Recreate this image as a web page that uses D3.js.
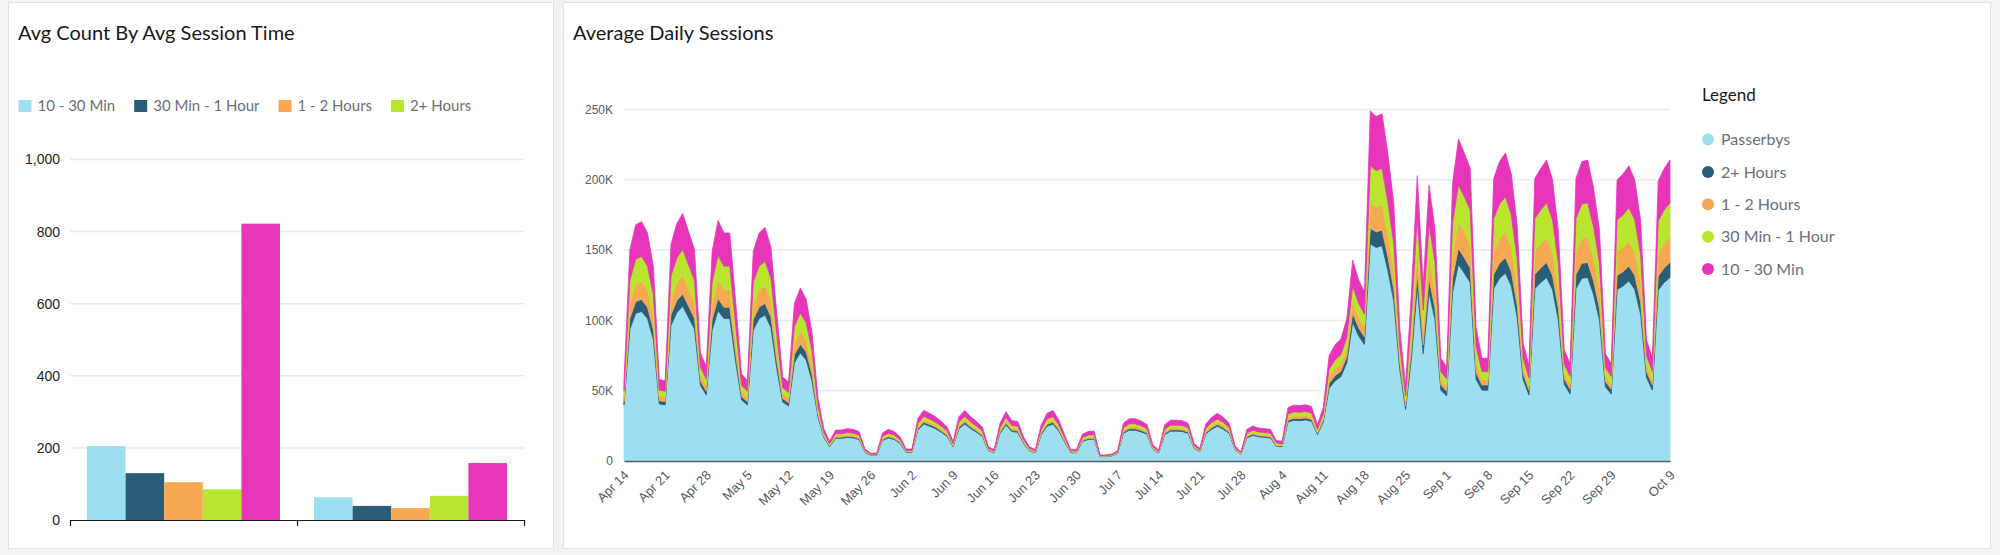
<!DOCTYPE html>
<html>
<head>
<meta charset="utf-8">
<title>Sessions Dashboard</title>
<style>
  body { margin: 0; background: #f2f2f2; }
  svg { display: block; font-family: Lato, "Open Sans", sans-serif; }
  .panel { fill: #fff; stroke: #e2e2e2; stroke-width: 1; }
  .title { font-size: 20px; fill: #16191f; }
  .grid line { stroke: #e9ebed; stroke-width: 1.5; }
  .legend-text { font-size: 16px; fill: #687078; }
  .legend-left { font-size: 15px; fill: #687078; }
  .ylab-left { font-size: 14px; fill: #222; }
  .ylab-right { font-size: 12px; fill: #545b64; }
  .xlab { font-size: 13px; fill: #545b64; }
</style>
</head>
<body>
<svg width="2000" height="555"></svg>
<script src="https://d3js.org/d3.v7.min.js"></script>
<script>
// ---------- data: left bar chart ----------
const barGroups = ["Group 1", "Group 2"];
const barSeries = ["10 - 30 Min", "30 Min - 1 Hour", "1 - 2 Hours", "2+ Hours", "Passerbys"];
const barLegendCount = 4; // legend in the reference only shows the first four
const barColors = ["#9ddef0", "#2a5d78", "#f6a853", "#b9e52f", "#e635b8"];
const barValues = [
  [205, 130, 105, 85, 822],
  [63, 39, 33, 67, 158]
];
const barTicks = [0, 200, 400, 600, 800, 1000];

// ---------- data: right stacked area (values in K, daily from startDate) ----------
const startDate = "2019-04-14";
const endDate = "2019-10-09";
const areaSeries = ["Passerbys", "2+ Hours", "1 - 2 Hours", "30 Min - 1 Hour", "10 - 30 Min"];
const areaColors = ["#9ddef0", "#2a5d78", "#f6a853", "#b9e52f", "#e635b8"];
const passerbys = [
  39.9, 93.8, 105, 106.3, 101.3, 86.3, 40.6,
  39.9, 96.3, 105.6, 110, 101.9, 93.8, 53.9,
  46.9, 93.1, 106.9, 101.3, 101.3, 70.6, 43.4,
  39.9, 93.1, 101.3, 103.8, 95, 65.6, 42,
  39.2, 70, 76.9, 71.9, 56.9, 31.5, 16.8,
  10.2, 16.1, 16.1, 16.8, 16.4, 15.3, 6.2,
  4, 4, 14.6, 16.4, 15.3, 12.4, 6.2,
  6.2, 21.9, 26.3, 24.8, 23, 20.4, 17.5,
  10.2, 23, 26.3, 23, 20.4, 17.5, 7.3,
  5.8, 19.7, 25.6, 21, 20.4, 12.4, 7.3,
  5.8, 18.7, 24.8, 26.3, 21.2, 13.5, 6.1,
  5.8, 13.9, 15.3, 15.5, 3.1, 3.1, 3.7,
  5.3, 19.7, 21.9, 21.9, 20.7, 19, 8.3,
  5.7, 18.7, 21.2, 21.2, 21, 19.6, 9.1,
  6.6, 19.2, 22.6, 24.7, 22.6, 19.6, 7.8,
  4.8, 16.4, 18.2, 17.2, 16.8, 16.4, 10.6,
  10.2, 27.7, 28.9, 28.7, 29.2, 28.2, 18.7,
  27.7, 51.8, 56.9, 60, 69.7, 98.7, 89,
  82.8, 154.4, 151.9, 153.1, 135.2, 113.5, 65.6,
  36.6, 73.2, 123.8, 76.3, 119.6, 100.7, 50.4,
  46.2, 120.2, 139.7, 133.6, 126.9, 58, 50.4,
  50.4, 122.6, 129.9, 133.6, 124.4, 101.9, 58,
  46.9, 122.6, 126.9, 130.5, 122, 100, 54.5,
  47.6, 122.6, 129.9, 130.5, 118.3, 100, 52.8,
  47.6, 122, 124.4, 128.1, 122, 104.3, 59.3,
  50.4, 121.4, 126.9, 130.5
];
const hours2plus = [
  2.3, 7.5, 8.4, 8.5, 8.1, 6.9, 2.3,
  2.3, 7.7, 8.5, 8.8, 8.2, 7.5, 3.1,
  2.7, 7.5, 8.6, 8.1, 8.1, 5.7, 2.5,
  2.3, 7.5, 8.1, 8.3, 7.6, 5.3, 2.4,
  2.2, 5.6, 6.2, 5.8, 4.6, 1.8, 0.8,
  0.5, 0.8, 0.8, 0.8, 0.8, 0.7, 0.3,
  0.2, 0.2, 0.7, 0.8, 0.7, 0.6, 0.3,
  0.3, 1.1, 1.3, 1.2, 1.1, 1, 0.8,
  0.5, 1.1, 1.3, 1.1, 1, 0.8, 0.4,
  0.3, 0.9, 1.2, 1, 1, 0.6, 0.4,
  0.3, 0.9, 1.2, 1.3, 1, 0.6, 0.3,
  0.3, 0.7, 0.7, 0.7, 0.2, 0.2, 0.2,
  0.3, 0.9, 1.1, 1.1, 1, 0.9, 0.4,
  0.3, 0.9, 1, 1, 1, 0.9, 0.4,
  0.3, 0.9, 1.1, 1.2, 1.1, 0.9, 0.4,
  0.2, 0.8, 0.9, 0.8, 0.8, 0.8, 0.5,
  0.5, 1.3, 1.4, 1.4, 1.4, 1.4, 0.9,
  1.3, 3.4, 3.7, 3.9, 4.5, 6.4, 5.8,
  5.4, 11.2, 11, 11.1, 9.8, 8.2, 4.8,
  2.7, 6, 10.2, 6.3, 9.8, 8.3, 3.7,
  3.4, 9.9, 11.5, 11, 10.4, 4.8, 3.7,
  3.7, 10.1, 10.7, 11, 10.2, 8.4, 4.2,
  3.4, 10.1, 10.4, 10.7, 10, 8.2, 4,
  3.5, 10.1, 10.7, 10.7, 9.7, 8.2, 3.8,
  3.5, 10, 10.2, 10.5, 10, 8.6, 4.3,
  3.7, 10, 10.4, 10.7
];
const hours1to2 = [
  3.4, 11.3, 12.6, 12.8, 12.2, 10.4, 3.5,
  3.4, 11.6, 12.7, 13.2, 12.2, 11.3, 4.6,
  4, 11.2, 12.8, 12.2, 12.2, 8.5, 3.7,
  3.4, 11.2, 12.2, 12.5, 11.4, 7.9, 3.6,
  3.4, 8.4, 9.2, 8.6, 6.8, 2.7, 1,
  0.6, 1, 1, 1, 1, 0.9, 0.4,
  0.2, 0.2, 0.9, 1, 0.9, 0.8, 0.4,
  0.4, 1.4, 1.6, 1.5, 1.4, 1.3, 1.1,
  0.6, 1.4, 1.6, 1.4, 1.3, 1.1, 0.5,
  0.4, 1.2, 1.6, 1.3, 1.3, 0.8, 0.5,
  0.4, 1.2, 1.5, 1.6, 1.3, 0.8, 0.4,
  0.4, 0.9, 0.9, 1, 0.2, 0.2, 0.2,
  0.3, 1.2, 1.4, 1.4, 1.3, 1.2, 0.5,
  0.4, 1.2, 1.3, 1.3, 1.3, 1.2, 0.6,
  0.4, 1.2, 1.4, 1.5, 1.4, 1.2, 0.5,
  0.3, 1, 1.1, 1.1, 1, 1, 0.7,
  0.6, 1.7, 1.8, 1.8, 1.8, 1.7, 1.2,
  1.7, 4.5, 5, 5.2, 6.1, 8.6, 7.7,
  7.2, 18.2, 17.9, 18, 15.9, 13.4, 4.8,
  2.7, 10, 16.8, 10.4, 16.3, 13.7, 3.7,
  3.4, 16.4, 19, 18.2, 17.3, 7.9, 3.7,
  3.7, 16.7, 17.7, 18.2, 16.9, 13.9, 4.2,
  3.4, 16.7, 17.3, 17.8, 16.6, 13.6, 4,
  3.5, 16.7, 17.7, 17.8, 16.1, 13.6, 3.8,
  3.5, 16.6, 16.9, 17.4, 16.6, 14.2, 4.3,
  3.7, 16.5, 17.3, 17.8
];
const min30to60 = [
  4, 15.8, 17.6, 17.9, 17, 14.5, 4.1,
  4, 16.2, 17.7, 18.5, 17.1, 15.8, 5.4,
  4.7, 15.6, 18, 17, 17, 11.9, 4.3,
  4, 15.6, 17, 17.4, 16, 11, 4.2,
  3.9, 11.8, 12.9, 12.1, 9.6, 3.2, 1.6,
  1, 1.5, 1.5, 1.6, 1.6, 1.5, 0.6,
  0.4, 0.4, 1.4, 1.6, 1.5, 1.2, 0.6,
  0.6, 2.1, 2.5, 2.4, 2.2, 2, 1.7,
  1, 2.2, 2.5, 2.2, 2, 1.7, 0.7,
  0.6, 1.9, 2.5, 2, 2, 1.2, 0.7,
  0.6, 1.8, 2.4, 2.5, 2, 1.3, 0.6,
  0.6, 1.3, 1.5, 1.5, 0.3, 0.3, 0.3,
  0.5, 1.9, 2.1, 2.1, 2, 1.8, 0.8,
  0.5, 1.8, 2, 2, 2, 1.9, 0.9,
  0.6, 1.8, 2.2, 2.4, 2.2, 1.9, 0.7,
  0.5, 1.6, 1.7, 1.6, 1.6, 1.6, 1,
  1, 2.7, 2.8, 2.8, 2.8, 2.7, 1.8,
  2.7, 5.6, 6.2, 6.5, 7.6, 10.7, 9.7,
  9, 26.1, 25.7, 25.9, 22.9, 19.2, 7.6,
  4.2, 13.8, 23.3, 14.4, 22.5, 19, 5.8,
  5.4, 22.7, 26.3, 25.2, 23.9, 10.9, 5.8,
  5.8, 23.1, 24.5, 25.2, 23.5, 19.2, 6.7,
  5.4, 23.1, 23.9, 24.6, 23, 18.9, 6.3,
  5.5, 23.1, 24.5, 24.6, 22.3, 18.9, 6.1,
  5.5, 23, 23.5, 24.2, 23, 19.7, 6.9,
  5.8, 22.9, 23.9, 24.6
];
const min10to30 = [
  7.4, 21.8, 24.4, 24.7, 23.5, 20, 7.5,
  7.4, 22.3, 24.5, 25.5, 23.6, 21.8, 10,
  8.7, 21.6, 24.8, 23.5, 23.5, 16.4, 8.1,
  7.4, 21.6, 23.5, 24.1, 22, 15.2, 7.8,
  7.3, 16.2, 17.8, 16.7, 13.2, 5.9, 2.8,
  1.7, 2.6, 2.6, 2.8, 2.7, 2.5, 1,
  0.7, 0.7, 2.4, 2.7, 2.5, 2, 1,
  1, 3.6, 4.3, 4.1, 3.8, 3.4, 2.9,
  1.7, 3.8, 4.3, 3.8, 3.4, 2.9, 1.2,
  1, 3.2, 4.2, 3.4, 3.4, 2, 1.2,
  1, 3.1, 4.1, 4.3, 3.5, 2.2, 1,
  1, 2.3, 2.5, 2.6, 0.5, 0.5, 0.6,
  0.9, 3.2, 3.6, 3.6, 3.4, 3.1, 1.4,
  0.9, 3.1, 3.5, 3.5, 3.4, 3.2, 1.5,
  1.1, 3.2, 3.7, 4.1, 3.7, 3.2, 1.3,
  0.8, 2.7, 3, 2.8, 2.8, 2.7, 1.7,
  1.7, 4.6, 4.8, 4.7, 4.8, 4.6, 3.1,
  4.6, 9.8, 10.7, 11.3, 13.1, 18.6, 16.8,
  15.6, 39.1, 38.5, 38.8, 34.2, 28.7, 12.4,
  6.9, 17, 28.8, 17.8, 27.8, 23.4, 9.5,
  8.7, 28, 32.5, 31.1, 29.5, 13.5, 9.5,
  9.5, 28.5, 30.2, 31.1, 29, 23.7, 10.9,
  8.8, 28.5, 29.5, 30.4, 28.4, 23.3, 10.3,
  9, 28.5, 30.2, 30.4, 27.5, 23.3, 9.9,
  9, 28.4, 29, 29.8, 28.4, 24.3, 11.2,
  9.5, 28.3, 29.5, 30.4
];
const areaTicksY = [0, 50, 100, 150, 200, 250];
const areaTickDates = [
  "2019-04-14", "2019-04-21", "2019-04-28", "2019-05-05", "2019-05-12", "2019-05-19",
  "2019-05-26", "2019-06-02", "2019-06-09", "2019-06-16", "2019-06-23", "2019-06-30",
  "2019-07-07", "2019-07-14", "2019-07-21", "2019-07-28", "2019-08-04", "2019-08-11",
  "2019-08-18", "2019-08-25", "2019-09-01", "2019-09-08", "2019-09-15", "2019-09-22",
  "2019-09-29", "2019-10-09"
];

const svg = d3.select("svg");

// panels
svg.append("rect").attr("class", "panel").attr("x", 8.5).attr("y", 2.5).attr("width", 545).attr("height", 546);
svg.append("rect").attr("class", "panel").attr("x", 563.5).attr("y", 2.5).attr("width", 1427).attr("height", 546);

// ================= left: grouped bars =================
const left = svg.append("g");
left.append("text").attr("class", "title").attr("x", 18).attr("y", 40).text("Avg Count By Avg Session Time");

// legend (horizontal, squares)
let lx = 18.5;
barSeries.slice(0, barLegendCount).forEach((name, i) => {
  const g = left.append("g").attr("transform", `translate(${lx},100)`);
  g.append("rect").attr("width", 13).attr("height", 12).attr("fill", barColors[i]);
  const t = g.append("text").attr("class", "legend-left").attr("x", 19).attr("y", 11).text(name);
  lx += 19 + t.node().getComputedTextLength() + 19;
});

const yBar = d3.scaleLinear().domain([0, 1000]).range([520, 159.5]);
const x0 = d3.scaleBand().domain(barGroups).range([70, 524]).padding(0);
const x1 = d3.scaleBand().domain(barSeries).range([0, x0.bandwidth()]).paddingInner(0).paddingOuter(0.44);

left.append("g").attr("class", "grid")
  .selectAll("line").data(barTicks.slice(1)).join("line")
  .attr("x1", 70).attr("x2", 524)
  .attr("y1", d => yBar(d)).attr("y2", d => yBar(d));

left.append("g").attr("transform", "translate(60,0)")
  .call(d3.axisLeft(yBar).tickValues(barTicks).tickSize(0).tickPadding(0).tickFormat(d3.format(",")))
  .call(g => g.select(".domain").remove())
  .call(g => g.selectAll("text").attr("class", "ylab-left").attr("fill", null).style("font-family", null).style("font-size", null));

left.append("g").selectAll("g").data(barValues).join("g")
  .attr("transform", (d, i) => `translate(${x0(barGroups[i])},0)`)
  .selectAll("rect").data(d => d).join("rect")
  .attr("x", (d, j) => x1(barSeries[j]))
  .attr("width", x1.bandwidth())
  .attr("y", d => yBar(d))
  .attr("height", d => yBar(0) - yBar(d))
  .attr("fill", (d, j) => barColors[j]);

const xEdge = d3.scaleLinear().domain([0, barGroups.length]).range([70, 524]);
left.append("g").attr("transform", `translate(0,${yBar(0)})`)
  .call(d3.axisBottom(xEdge).tickValues(d3.range(barGroups.length + 1)).tickSize(6).tickSizeOuter(0).tickFormat(""))
  .call(g => g.selectAll("path,line").attr("stroke", "#16191f").attr("stroke-width", 1.2));

// ================= right: stacked area =================
const right = svg.append("g");
right.append("text").attr("class", "title").attr("x", 573).attr("y", 40).text("Average Daily Sessions");

const parse = d3.timeParse("%Y-%m-%d");
const t0 = parse(startDate);
const rows = passerbys.map((v, i) => ({
  date: d3.timeDay.offset(t0, i),
  "Passerbys": v,
  "2+ Hours": hours2plus[i],
  "1 - 2 Hours": hours1to2[i],
  "30 Min - 1 Hour": min30to60[i],
  "10 - 30 Min": min10to30[i]
}));

const xT = d3.scaleTime().domain([t0, parse(endDate)]).range([624, 1670]);
const yA = d3.scaleLinear().domain([0, 250]).range([461, 109.5]);

right.append("g").attr("class", "grid")
  .selectAll("line").data(areaTicksY.slice(1)).join("line")
  .attr("x1", 624).attr("x2", 1670)
  .attr("y1", d => yA(d)).attr("y2", d => yA(d));

right.append("g").attr("transform", "translate(613,0)")
  .call(d3.axisLeft(yA).tickValues(areaTicksY).tickSize(0).tickPadding(0).tickFormat(d => d === 0 ? "0" : d + "K"))
  .call(g => g.select(".domain").remove())
  .call(g => g.selectAll("text").attr("class", "ylab-right").attr("fill", null).style("font-family", null).style("font-size", null));

const stacked = d3.stack().keys(areaSeries)(rows);
const area = d3.area()
  .x(d => xT(d.data.date))
  .y0(d => yA(d[0]))
  .y1(d => yA(d[1]));

right.append("g").selectAll("path").data(stacked).join("path")
  .attr("d", area)
  .attr("fill", (d, i) => areaColors[i])
  .attr("stroke", (d, i) => areaColors[i])
  .attr("stroke-width", 0.8)
  .attr("stroke-linejoin", "round");

right.append("g").attr("transform", `translate(0,${yA(0)})`)
  .call(d3.axisBottom(xT).tickValues(areaTickDates.map(parse)).tickSize(0).tickPadding(0).tickFormat(d3.timeFormat("%b %-d")))
  .call(g => g.select(".domain").attr("stroke", "#545b64").attr("stroke-width", 1.5))
  .call(g => g.selectAll("text")
    .attr("class", "xlab").attr("fill", null).style("font-family", null).style("font-size", null)
    .attr("y", 0).attr("dy", 0)
    .attr("transform", "translate(5,15) rotate(-45)")
    .style("text-anchor", "end"));

// legend (vertical, circles)
const leg = right.append("g").attr("transform", "translate(1702,0)");
leg.append("text").attr("x", 0).attr("y", 101).style("font-size", "17px").attr("fill", "#16191f").text("Legend");
leg.selectAll("g.item").data(areaSeries).join("g").attr("class", "item")
  .attr("transform", (d, i) => `translate(0,${139.5 + i * 32.4})`)
  .call(g => g.append("circle").attr("cx", 6).attr("r", 6).attr("fill", (d, i) => areaColors[i]))
  .call(g => g.append("text").attr("class", "legend-text").attr("x", 19).attr("dy", "0.35em").text(d => d));
</script>
</body>
</html>
